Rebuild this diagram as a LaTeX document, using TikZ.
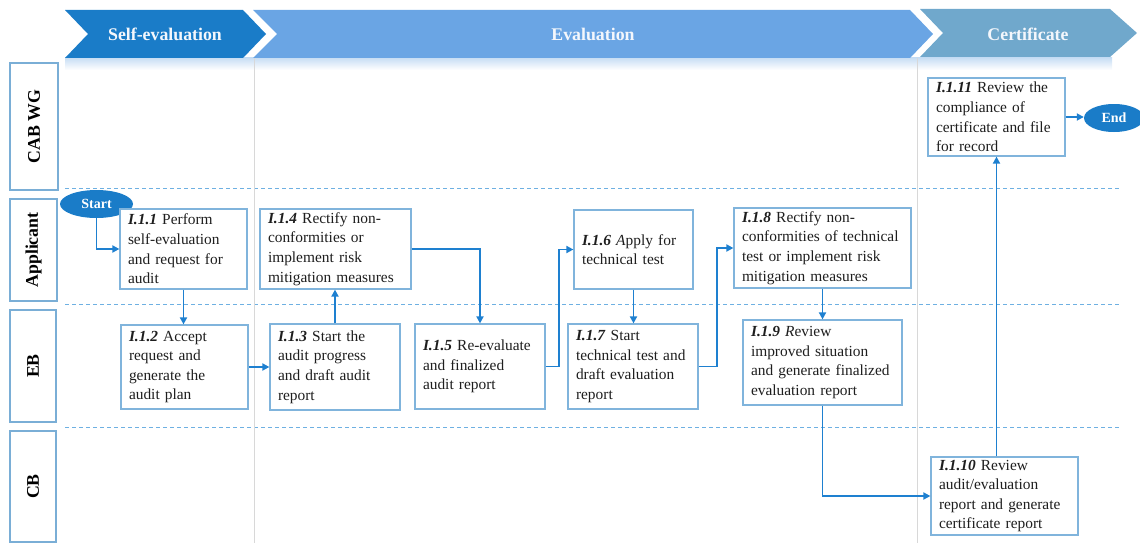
\documentclass[tikz,border=0pt]{standalone}
\usepackage{fontspec}
\setmainfont{Liberation Serif}
\usetikzlibrary{arrows.meta,calc,shapes.geometric}

\definecolor{phaseA}{RGB}{26,124,200}
\definecolor{phaseB}{RGB}{106,165,228}
\definecolor{phaseC}{RGB}{112,168,204}
\definecolor{glowblue}{RGB}{200,222,244}
\definecolor{flowblue}{RGB}{30,128,208}
\definecolor{boxline}{RGB}{128,180,220}
\definecolor{laneline}{RGB}{122,174,214}
\definecolor{sepline}{RGB}{110,176,226}
\definecolor{gridgray}{RGB}{216,216,216}
\definecolor{txt}{RGB}{30,30,30}
\definecolor{headtxt}{RGB}{244,247,252}

\newcommand\stepid[1]{\textbf{\textit{#1}}}

\begin{document}
\begin{tikzpicture}[x=1pt,y=-1pt,
  stepbox/.style={draw=boxline, line width=1.2pt, fill=white, rectangle,
    inner xsep=8pt, inner ysep=0pt, align=left, text=txt,
    font=\fontsize{15.4}{19.6}\selectfont},
  lanebox/.style={draw=laneline, line width=2.2pt, rectangle, inner sep=0pt,
    font=\fontsize{17.8}{20}\selectfont\bfseries, text=black},
  phasetxt/.style={font=\fontsize{17.8}{20}\selectfont\bfseries, text=headtxt},
  terminal/.style={ellipse, fill=phaseA, inner sep=0pt, text=white,
    font=\fontsize{14}{16}\selectfont\bfseries},
  flow/.style={draw=flowblue, line width=1.8pt,
    -{Triangle[length=7pt,width=7pt]}},
  lanesep/.style={draw=sepline, line width=0.9pt, dash pattern=on 4pt off 3pt},
  phasesep/.style={draw=gridgray, line width=1pt}
]
\useasboundingbox (0,0) rectangle (1140,543);

% soft glow under the phase banner
\shade[top color=glowblue, bottom color=white] (65,58) rectangle (1112,70);

% swimlane separators
\draw[lanesep] (65,188) -- (1120,188);
\draw[lanesep] (65,304) -- (1120,304);
\draw[lanesep] (65,427) -- (1120,427);

% phase separators
\draw[phasesep] (254,58) -- (254,543);
\draw[phasesep] (917,58) -- (917,543);

% phase banner
\fill[phaseB] (253,10) -- (910,10) -- (933,34) -- (910,58) -- (253,58) -- (277,34) -- cycle;
\fill[phaseC] (920,9) -- (1110,9) -- (1137,33) -- (1110,57) -- (920,57) -- (943,33) -- cycle;
\fill[phaseA] (65,10) -- (243,10) -- (266,34) -- (243,58) -- (65,58) -- (88,34) -- cycle;
\node[phasetxt] (ph1) at (165,34) {Self-evaluation};
\node[phasetxt] (ph2) at (593,34) {Evaluation};
\node[phasetxt] (ph3) at (1028,34) {Certificate};

% swimlane labels
\node[lanebox, rotate=90, minimum width=127pt, minimum height=48pt] (lcab) at (34,126.5) {CAB WG};
\node[lanebox, rotate=90, minimum width=102pt, minimum height=47pt] (lapp) at (33.5,250) {Applicant};
\node[lanebox, rotate=90, minimum width=112pt, minimum height=46pt] (leb) at (33,366) {EB};
\node[lanebox, rotate=90, minimum width=111pt, minimum height=46pt] (lcb) at (33,486.5) {CB};

% terminals
\node[terminal, minimum width=73pt, minimum height=28pt] (start) at (96.5,204) {Start};
\node[terminal, minimum width=60pt, minimum height=28pt] (end) at (1114,118) {End};

% process steps
\node[stepbox, minimum width=127pt, minimum height=80pt, text width=111pt] (s1) at (183.5,249)
  {\stepid{I.1.1} Perform\\self-evaluation\\and request for\\audit};
\node[stepbox, minimum width=127pt, minimum height=84pt, text width=111pt] (s2) at (184.5,367)
  {\stepid{I.1.2} Accept\\request and\\generate the\\audit plan};
\node[stepbox, minimum width=130pt, minimum height=86pt, text width=114pt] (s3) at (335,367)
  {\stepid{I.1.3} Start the\\audit progress\\and draft audit\\report};
\node[stepbox, minimum width=151pt, minimum height=80pt, text width=135pt] (s4) at (335.5,249)
  {\stepid{I.1.4} Rectify non-\\conformities or\\implement risk\\mitigation measures};
\node[stepbox, minimum width=130pt, minimum height=85pt, text width=114pt] (s5) at (480,366.5)
  {\stepid{I.1.5} Re-evaluate\\and finalized\\audit report};
\node[stepbox, minimum width=119pt, minimum height=79pt, text width=103pt] (s6) at (633.5,249.5)
  {\stepid{I.1.6} \textit{A}pply for\\technical test};
\node[stepbox, minimum width=130pt, minimum height=85pt, text width=114pt] (s7) at (633,366.5)
  {\stepid{I.1.7} Start\\technical test and\\draft evaluation\\report};
\node[stepbox, minimum width=177pt, minimum height=80pt, text width=161pt] (s8) at (822.5,248)
  {\stepid{I.1.8} Rectify non-\\conformities of technical\\test or implement risk\\mitigation measures};
\node[stepbox, minimum width=159pt, minimum height=85pt, text width=143pt] (s9) at (822.5,362.5)
  {\stepid{I.1.9} \textit{R}eview\\improved situation\\and generate finalized\\evaluation report};
\node[stepbox, minimum width=147pt, minimum height=78pt, text width=131pt] (s10) at (1004.5,496)
  {\stepid{I.1.10} Review\\audit/evaluation\\report and generate\\certificate report};
\node[stepbox, minimum width=137pt, minimum height=78pt, text width=121pt] (s11) at (996.5,117)
  {\stepid{I.1.11} Review the\\compliance of\\certificate and file\\for record};

% flow connectors
\draw[flow] (start.south) |- (s1.west);
\draw[flow] (s1.south) -- (s1.south |- s2.north);
\draw[flow] (s2.east) -- (s2.east -| s3.west);
\draw[flow] (s3.north) -- (s3.north |- s4.south);
\draw[flow] (s4.east) -| (s5.north);
\draw[flow] (s5.east) -- ++(13,0) |- (s6.west);
\draw[flow] (s6.south) -- (s6.south |- s7.north);
\draw[flow] (s7.east) -- ++(18,0) |- (s8.west);
\draw[flow] (s8.south) -- (s8.south |- s9.north);
\draw[flow] (s9.south) |- (s10.west);
\draw[flow] (s10.north -| s11.south) -- (s11.south);
\draw[flow] (s11.east) -- (s11.east -| end.west);
\end{tikzpicture}
\end{document}
